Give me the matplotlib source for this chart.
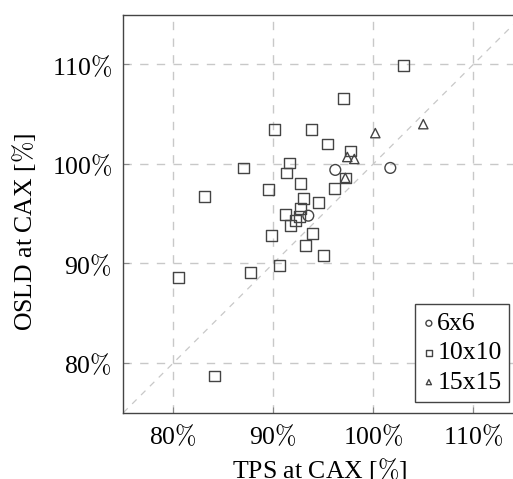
import matplotlib
matplotlib.use("Agg")
import matplotlib.pyplot as plt

plt.rcParams['font.family'] = ['Liberation Serif', 'DejaVu Serif']
plt.rcParams['mathtext.fontset'] = 'cm'

# Data (TPS %, OSLD %)
x_6x6 = [93.5, 96.2, 101.7]
y_6x6 = [94.8, 99.4, 99.6]

x_10x10 = [103.0, 97.0, 90.1, 93.8, 95.4, 97.7, 91.6, 91.3, 87.0, 92.7,
           89.5, 83.1, 93.0, 94.5, 96.1, 92.7, 91.2, 92.6, 92.2, 91.7,
           89.8, 93.9, 93.2, 95.0, 90.6, 87.7, 80.5, 84.1, 97.2]
y_10x10 = [109.9, 106.6, 103.5, 103.5, 102.0, 101.3, 100.1, 99.1, 99.6, 98.0,
           97.4, 96.7, 96.5, 96.1, 97.5, 95.5, 94.9, 94.7, 94.3, 93.8,
           92.8, 93.0, 91.8, 90.8, 89.8, 89.1, 88.6, 78.7, 98.6]

x_15x15 = [97.4, 98.1, 100.2, 105.0, 97.2]
y_15x15 = [100.7, 100.5, 103.1, 104.0, 98.6]

ticks = [80, 90, 100, 110]
tick_labels = [f"{t}$\\%$" for t in ticks]

W, H = 513, 479
fig = plt.figure(figsize=(W / 100, H / 100), dpi=100)
ax = fig.add_axes([123.3 / W, (H - 412.7) / H, 400 / W, 398 / H])

ax.set_xlim(75, 115)
ax.set_ylim(75, 115)

ax.grid(True, color='#c8c8c8', linestyle=(0, (6, 6)), linewidth=1.0)
ax.set_axisbelow(True)
ax.plot([75, 115], [75, 115], color='#c8c8c8', linestyle=(0, (5, 5)),
        linewidth=0.9, zorder=1)

ec = '#444444'
ax.scatter(x_6x6, y_6x6, marker='o', s=60, facecolors='none',
           edgecolors=ec, linewidths=1.0, label='6x6', zorder=3)
ax.scatter(x_10x10, y_10x10, marker='s', s=60, facecolors='none',
           edgecolors=ec, linewidths=1.0, label='10x10', zorder=3)
ax.scatter(x_15x15, y_15x15, marker='^', s=45, facecolors='none',
           edgecolors=ec, linewidths=1.0, label='15x15', zorder=3)

ax.set_xticks(ticks)
ax.set_yticks(ticks)
ax.set_xticklabels(tick_labels)
ax.set_yticklabels(tick_labels)
ax.tick_params(direction='in', length=4, color='#888888', labelsize=18.5,
               pad=8)

for s in ax.spines.values():
    s.set_color('#444444')
    s.set_linewidth(1.0)

ax.set_xlabel("TPS at CAX [$\\%$]", fontsize=18.5)
ax.set_ylabel("OSLD at CAX [$\\%$]", fontsize=18.5)
ax.xaxis.set_label_coords(0.49, -0.108)
ax.yaxis.set_label_coords(-0.214, 0.455)

leg = ax.legend(loc='lower right', bbox_to_anchor=(386.0 / 400, 0.028),
                fontsize=18.5, markerscale=0.55, handletextpad=0.1,
                handlelength=0.45, labelspacing=0.25, borderpad=0.3,
                fancybox=False, framealpha=1.0, borderaxespad=0.0)
leg.get_frame().set_edgecolor('#444444')
leg.get_frame().set_linewidth(1.0)

fig.savefig("out.png", dpi=100)
